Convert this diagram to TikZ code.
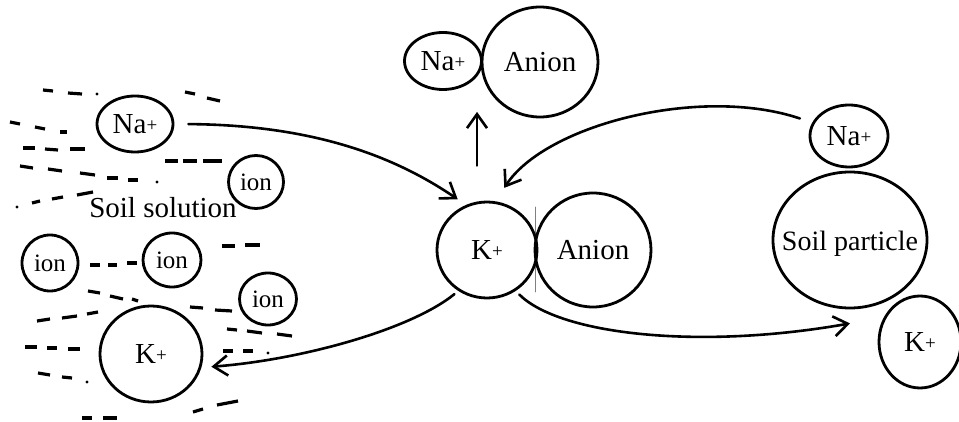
\documentclass[tikz,border=0pt]{standalone}
\usepackage{fontspec}
\setmainfont{Liberation Serif}
\usetikzlibrary{arrows.meta,shapes.geometric}

\newcommand{\pplus}{\raisebox{1.5pt}{\fontsize{19}{19}\selectfont+}}

\tikzset{
	particle/.style={draw, ellipse, line width=2.8pt, inner sep=0pt,
		font=\fontsize{29}{31}\selectfont},
	smallion/.style={particle, font=\fontsize{25}{27}\selectfont},
	arr/.style={line width=2.6pt,
		-{Straight Barb[length=14pt,width=20pt]}},
	dashmark/.style={line width=3.2pt, line cap=butt},
}

\begin{document}
\begin{tikzpicture}[
		x=1pt, y=-1pt,
		line cap=round,
		line join=round
		]
		\useasboundingbox (0,0) rectangle (959,422);
		
		% =========================
		% Soil solution (left)
		% =========================
		\foreach \xa/\ya/\xb/\yb in {
			43/90/53/91, 68/93/82/94, 185/92/195/94, 207/98/220/101,
			10/122/20/124, 35/127/45/129, 60/132/67/132,
			23/148/35/148, 45/149/58/150, 70/149/85/149,
			165/161/178/161, 183/161/197/161, 203/161/222/161,
			20/166/33/168, 48/169/62/171, 80/173/95/175,
			107/178/118/178, 128/180/138/180,
			32/203/40/201, 52/199/63/197, 77/195/93/192,
			90/265/100/265, 108/265/117/265, 127/263/137/263,
			222/246/235/246, 245/245/260/245,
			88/291/100/293, 110/296/123/299, 132/299/138/301,
			37/321/50/319, 62/318/77/316, 87/314/98/312,
			190/307/203/308, 215/310/232/311,
			25/347/37/347, 47/348/57/348, 68/349/80/349,
			227/329/237/330, 247/331/262/333, 277/334/292/336,
			38/373/50/375, 62/377/72/378,
			223/351/233/351, 243/351/253/351,
			193/412/203/409, 217/405/238/401,
			82/418/92/418, 103/418/117/418
		}
		{
			\draw[dashmark] (\xa,\ya) -- (\xb,\yb);
		}
		
		\foreach \x/\y in {97/94, 157/182, 17/207, 87/382, 268/353}
		{
			\fill (\x,\y) circle (1.7pt);
		}
		
		\node[particle, minimum width=76pt, minimum height=56pt] (nal) at (135,124) {Na\pplus};
		\node[smallion, minimum width=55pt, minimum height=53pt] (iona) at (256,182) {ion};
		\node[smallion, minimum width=56pt, minimum height=56pt] (ionb) at (50,263) {ion};
		\node[smallion, minimum width=58pt, minimum height=54pt] (ionc) at (172,260) {ion};
		\node[smallion, minimum width=57pt, minimum height=52pt] (iond) at (268,299) {ion};
		\node[particle, minimum width=102pt, minimum height=96pt] (kl) at (151,354) {K\pplus};
		\node[font=\fontsize{29}{31}\selectfont, anchor=base, inner sep=0pt] (sol) at (163,218) {Soil solution};
		
		% =========================
		% K+ with anion (middle)
		% =========================
		\draw[gray, line width=0.6pt] (535,207) -- (535,292);
		\node[particle, minimum width=100pt, minimum height=96pt] (kc) at (487,250) {K\pplus};
		\node[particle, minimum width=116pt, minimum height=114pt] (anc) at (593,250) {Anion};
		
		\node[particle, minimum width=77pt, minimum height=57pt] (nat) at (443,61) {Na\pplus};
		\node[particle, minimum width=116pt, minimum height=110pt] (ant) at (540,62) {Anion};
		
		% =========================
		% Soil particle (right)
		% =========================
		\node[particle, minimum width=78pt, minimum height=62pt] (nar) at (849,136) {Na\pplus};
		\node[particle, minimum width=154pt, minimum height=136pt,
		label={[font=\fontsize{28}{30}\selectfont, yshift=-4pt]center:Soil particle}] (sp) at (850,240) {};
		\node[particle, minimum width=82pt, minimum height=92pt] (kr) at (920,342) {K\pplus};
		\coordinate (dock) at ([yshift=-14pt]sp.south);
		
		% =========================
		% Exchange arrows
		% =========================
		\draw[arr, shorten <=14pt, shorten >=10pt]
		(nal.east) .. controls (320,125) and (400,160) .. (kc.115);
		
		\draw[arr, shorten <=13pt, shorten >=16pt]
		(nar.160) .. controls (700,85) and (545,125) .. (kc.80);
		
		\draw[arr, shorten <=35pt, shorten >=21pt]
		([xshift=-10pt]kc.north) -- ([xshift=-10pt]kc.north |- nat.south);
		
		\draw[arr, shorten <=5pt, shorten >=10pt]
		(kc.235) .. controls (410,330) and (300,360) .. (kl.-15);
		
		\draw[arr, shorten <=5pt]
		(kc.-55) .. controls (560,335) and (700,350) .. (dock);
		
	\end{tikzpicture}
\end{document}
